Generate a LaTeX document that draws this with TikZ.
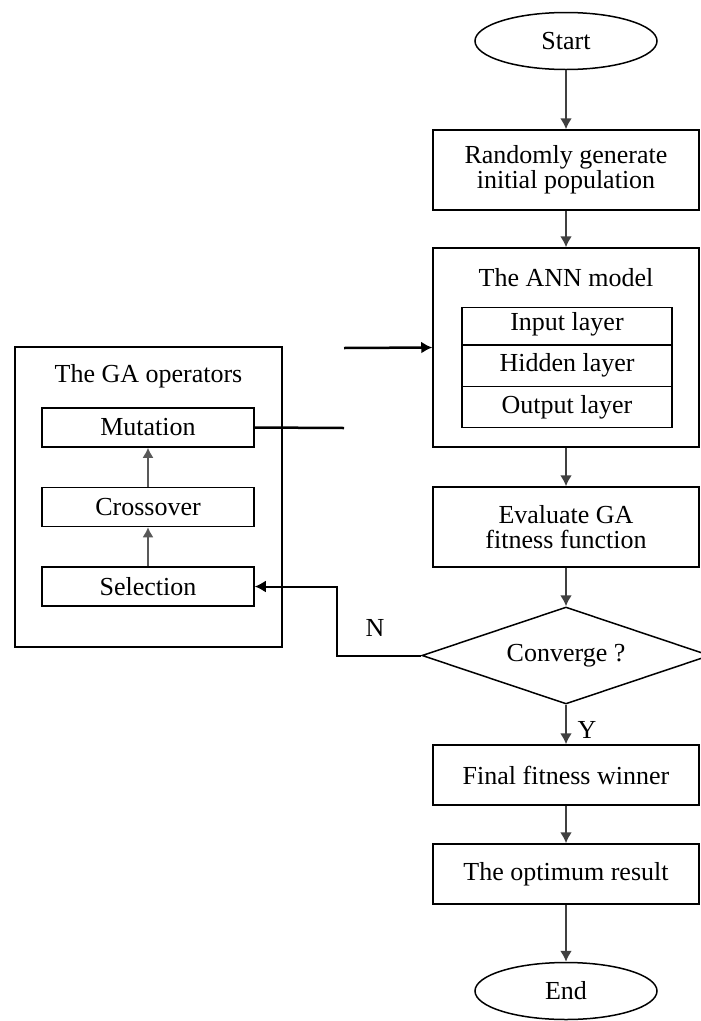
\documentclass[tikz,border=0pt]{standalone}
\usepackage{fontspec}
\setmainfont{Liberation Serif}
\usetikzlibrary{shapes,arrows.meta}
\newcommand{\opbox}[3]{node[opstep] (#1) at (#2) {#3}}

\begin{document}
\begin{tikzpicture}[
      x=1pt, y=-1pt,
      every node/.style={font=\fontsize{26}{25}\selectfont, inner sep=0pt},
      box/.style={rectangle, draw=black, line width=1.5pt, minimum width=266pt, align=center},
      opstep/.style={rectangle, draw=black, line width=1.5pt, minimum width=212pt, minimum height=39pt},
      terminal/.style={ellipse, draw=black, line width=1.5pt, minimum width=182pt, minimum height=57pt},
      pointer/.style={line width=2pt, draw=black!75, -{Latex[length=11pt,width=12pt]}},
      upointer/.style={line width=1.5pt, draw=black!65, -{Latex[length=10pt,width=11pt]}},
      link/.style={line width=2.5pt, draw=black}
      ]
      \useasboundingbox (0,0) rectangle (701,1021);

      % main column
      \node[terminal] (start) at (566,41) {Start};
      \node[box, minimum height=80pt] (rand) at (566,170) {Randomly generate\\initial population};
      \node[box, minimum height=199pt,
            label={[anchor=center,yshift=-30pt]north:The ANN model}] (ann) at (566,347.5) {};
      \node[rectangle split, rectangle split parts=3, draw=black, line width=1.5pt,
            minimum width=210pt, text height=14pt, text depth=6pt, inner ysep=8pt] (layers) at (567,367.5) {
        Input layer
        \nodepart{two} Hidden layer
        \nodepart{three} Output layer
      };
      \node[box, minimum height=80pt] (eval) at (566,527) {Evaluate GA\\fitness function};
      \node[diamond, draw=black, line width=1.5pt, shape aspect=3,
            minimum width=288pt, minimum height=97pt] (conv) at (566,655.5) {Converge ?};
      \node[box, minimum height=60pt] (final) at (566,775) {Final fitness winner};
      \node[box, minimum height=60pt] (opt) at (566,874) {The optimum result};
      \node[terminal] (end) at (566,991) {End};

      % operator block
      \node[rectangle, draw=black, line width=1.5pt, minimum width=267pt, minimum height=300pt,
            label={[anchor=center,yshift=-30pt]north:The GA operators}] (ga) at (148.5,497) {};
      \path \opbox{mut}{148,427.5}{Mutation};
      \path \opbox{cross}{148,507}{Crossover};
      \path \opbox{sel}{148,586.5}{Selection};

      \path (start) edge [pointer] (rand);
      \path (rand) edge [pointer] (ann);
      \path (ann) edge [pointer] (eval);
      \path (eval) edge [pointer] (conv);
      \path (conv) edge [pointer] (final);
      \path (final) edge [pointer] (opt);
      \path (opt) edge [pointer] (end);
      \path (sel) edge [upointer] (cross);
      \path (cross) edge [upointer] (mut);

      % feedback loop
      \coordinate (back) at (337,655.5);
      \draw[link, line width=2pt, -{Latex[length=11pt,width=12pt]}] (conv.west) -- (back) |- (sel.east);
      \coordinate (mutend) at (344,428);
      \draw[link] (mut.east) -- (mutend);
      \coordinate (annin) at (344,348);
      \draw[link, -{Latex[length=11pt,width=12pt]}] (annin) -- (ann.west);

      \node (no) at (375,628) {N};
      \node (yes) at (587,730) {Y};
\end{tikzpicture}
\end{document}
